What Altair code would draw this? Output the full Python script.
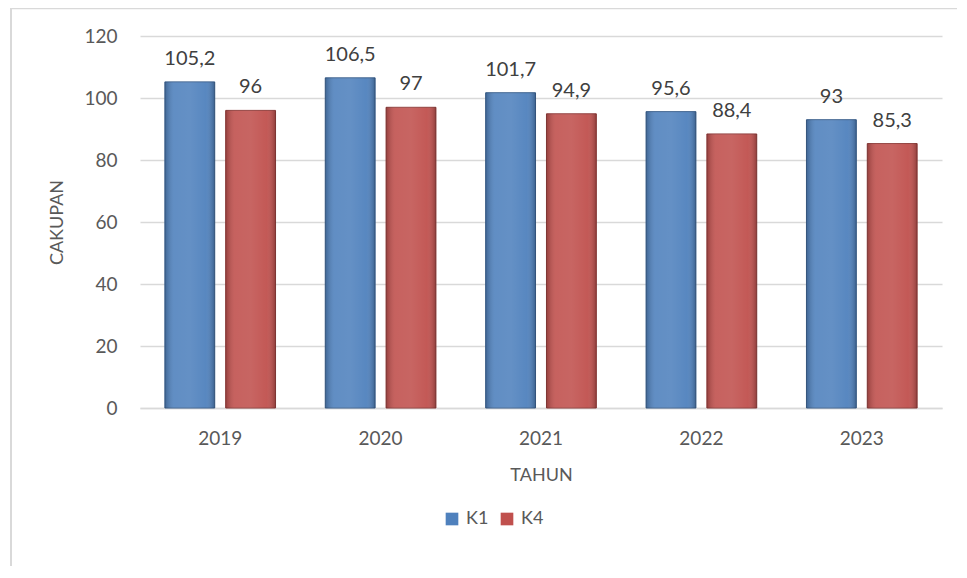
import altair as alt
import pandas as pd

years = ["2019", "2020", "2021", "2022", "2023"]
k1 = [105.2, 106.5, 101.7, 95.6, 93]
k4 = [96, 97, 94.9, 88.4, 85.3]
series = ["K1", "K4"]
colors = ["#4F81BD", "#C0504D"]
y_ticks = [0, 20, 40, 60, 80, 100, 120]

rows = []
for i, yr in enumerate(years):
    rows.append({"tahun": yr, "seri": "K1", "nilai": k1[i]})
    rows.append({"tahun": yr, "seri": "K4", "nilai": k4[i]})
df = pd.DataFrame(rows)

FONT = "Lato"
TXT = "#595959"
GRID = "#D9D9D9"
W, H = 802, 372

x_enc = alt.X("tahun:N", sort=years,
              scale=alt.Scale(paddingInner=0.31, paddingOuter=0.155),
              axis=alt.Axis(title="TAHUN", labelFont=FONT, labelFontSize=19, labelColor=TXT,
                            labelAngle=0, labelBaseline="middle", labelPadding=30,
                            ticks=False, tickSize=0, domainColor=GRID, domainWidth=1.5,
                            grid=False, titleFont=FONT, titleFontSize=18, titleFontWeight="normal",
                            titleColor=TXT, titleX=W / 2, titleY=67, titleBaseline="middle",
                            titleAlign="center"))
xoff = alt.XOffset("seri:N", sort=series, scale=alt.Scale(paddingInner=0.18))

base = alt.Chart(df)

bars = base.mark_bar(strokeWidth=1).encode(
    x=x_enc,
    xOffset=xoff,
    y=alt.Y("nilai:Q", scale=alt.Scale(domain=[0, 120], nice=False),
            axis=alt.Axis(title="CAKUPAN", values=y_ticks, labelFont=FONT, labelFontSize=19,
                          labelColor=TXT, ticks=False, tickSize=0, domain=False, labelPadding=23,
                          gridColor=GRID, gridWidth=1.3, titleFont=FONT, titleFontSize=18,
                          titleFontWeight="normal", titleColor=TXT, titleX=-83, titleY=H / 2,
                          titleAngle=-90, titleAlign="center", titleBaseline="middle")),
    color=alt.Color("seri:N", sort=series, scale=alt.Scale(domain=series, range=colors),
                    legend=alt.Legend(title=None, orient="none", direction="horizontal",
                                      legendX=303, legendY=474, symbolType="square",
                                      symbolSize=160, symbolStrokeWidth=0, labelFont=FONT,
                                      labelFontSize=18, labelColor=TXT, columnPadding=9,
                                      labelOffset=5)),
    stroke=alt.Stroke("seri:N", sort=series,
                      scale=alt.Scale(domain=series, range=["#3A5F8C", "#8E3B39"]), legend=None),
)

shade = base.mark_bar(
    fill=alt.Gradient(
        gradient="linear", x1=0, x2=1, y1=0, y2=0,
        stops=[alt.GradientStop(color="rgba(0,0,0,0.22)", offset=0),
               alt.GradientStop(color="rgba(255,255,255,0.10)", offset=0.18),
               alt.GradientStop(color="rgba(255,255,255,0.12)", offset=0.5),
               alt.GradientStop(color="rgba(255,255,255,0.05)", offset=0.82),
               alt.GradientStop(color="rgba(0,0,0,0.25)", offset=1)]),
    strokeWidth=0,
).encode(
    x=alt.X("tahun:N", sort=years),
    xOffset=alt.XOffset("seri:N", sort=series),
    y="nilai:Q",
)

labels = base.transform_calculate(
    lbl="replace(toString(datum.nilai), '.', ',')"
).mark_text(font=FONT, fontSize=20, color="#404040", baseline="alphabetic", dy=-17).encode(
    x=alt.X("tahun:N", sort=years),
    xOffset=alt.XOffset("seri:N", sort=series),
    y="nilai:Q",
    text="lbl:N",
)

frame_left = alt.Chart(pd.DataFrame({"a": [0]})).mark_rule(color=GRID, strokeWidth=2).encode(
    x=alt.value(-129), y=alt.value(-28), y2=alt.value(H + 170))
frame_top = alt.Chart(pd.DataFrame({"a": [0]})).mark_rule(color=GRID, strokeWidth=1.5).encode(
    x=alt.value(-129), x2=alt.value(W + 40), y=alt.value(-27.6))

chart = alt.layer(frame_left, frame_top, bars, shade, labels).properties(
    width=W, height=H,
    autosize=alt.AutoSizeParams(type="none"),
    padding={"left": 132, "top": 28, "right": 15, "bottom": 158},
).configure_view(stroke=None).configure_axis(gridColor=GRID)

chart.save("out.html", embed_options={"renderer": "svg", "actions": False})
